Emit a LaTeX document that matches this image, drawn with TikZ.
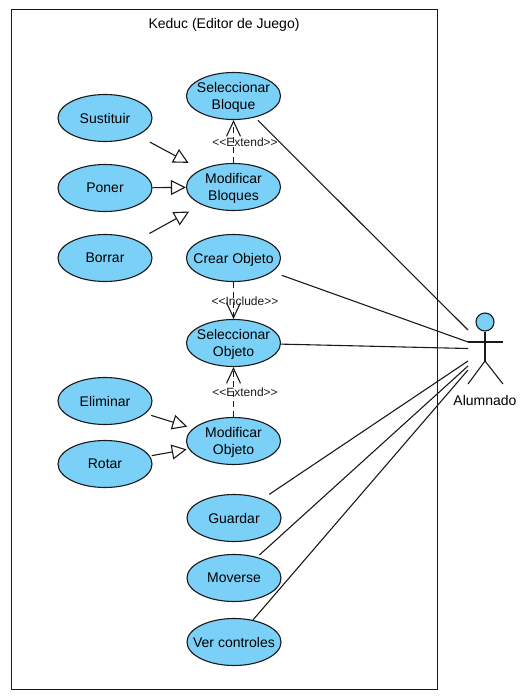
\documentclass[tikz,border=0pt]{standalone}
\usepackage{fontspec}
\setmainfont{Liberation Sans}
\usetikzlibrary{arrows.meta, shapes.geometric}
\definecolor{usecase}{HTML}{7BD0F7}
\definecolor{outline}{HTML}{1A1A1A}

\begin{document}
\begin{tikzpicture}[
    x=1pt, y=-1pt,
    case/.style={ellipse, minimum width=94pt, minimum height=47pt, inner xsep=-10pt,
                 inner ysep=0pt, text depth=0pt,
                 align=center, draw=outline, fill=usecase, line width=1.1pt,
                 font=\fontsize{14}{17}\selectfont},
    stereo/.style={font=\fontsize{12}{14}\selectfont, inner sep=0pt, text=outline},
    link/.style={draw=outline, line width=1.1pt},
    general/.style={link, -{Triangle[open, length=15pt, width=15pt, line width=1.1pt]}},
    dep/.style={link, dash pattern=on 6pt off 4pt,
                -{Straight Barb[length=15pt, width=14pt, line width=1.1pt]}}
  ]
    \node[draw=outline, line width=1pt, minimum width=426pt, minimum height=680pt,
          inner sep=0pt] (frame) at (224,349) {};
    \node[font=\fontsize{14}{17}\selectfont] (title) at (224,25) {Keduc (Editor de Juego)};

    \node[case] (selbloque) at (233.5,96)  {Seleccionar\\ Bloque};
    \node[case] (modbloque) at (233.5,187) {Modificar\\ Bloques};
    \node[case] (crear)     at (233.5,258) {Crear Objeto};
    \node[case] (selobjeto) at (233.5,343) {Seleccionar\\ Objeto};
    \node[case] (modobjeto) at (233.5,441) {Modificar\\ Objeto};
    \node[case] (guardar)   at (234,518)   {Guardar};
    \node[case] (moverse)   at (234,578)   {Moverse};
    \node[case] (ver)       at (234,642)   {Ver controles};

    \node[case] (sustituir) at (105,118) {Sustituir};
    \node[case] (poner)     at (105,188) {Poner};
    \node[case] (borrar)    at (105,258) {Borrar};
    \node[case] (eliminar)  at (105,401) {Eliminar};
    \node[case] (rotar)     at (105,464) {Rotar};

    \draw[general, shorten <=14pt, shorten >=14pt] (sustituir) -- (modbloque);
    \draw[general] (poner) -- (modbloque);
    \draw[general, shorten <=14pt, shorten >=14pt] (borrar) -- (modbloque);
    \draw[general, shorten <=6pt, shorten >=6pt] (eliminar) -- (modobjeto);
    \draw[general, shorten <=2pt, shorten >=2pt] (rotar) -- (modobjeto);

    \draw[dep] (modbloque) -- (selbloque);
    \draw[dep] (crear) -- (selobjeto);
    \draw[dep] (modobjeto) -- (selobjeto);
    \node[stereo] (ext1) at (245,142) {<{}<Extend>{}>};
    \node[stereo] (inc)  at (245,301) {<{}<Include>{}>};
    \node[stereo] (ext2) at (245,392) {<{}<Extend>{}>};

    % actor
    \node[circle, draw=outline, fill=usecase, line width=1.1pt, minimum size=18pt,
          inner sep=0pt] (head) at (485,322) {};
    \coordinate (hip)   at (485,361);
    \coordinate (armL)  at (468,342);
    \coordinate (armR)  at (503,342);
    \coordinate (legL)  at (468,384);
    \coordinate (legR)  at (503,384);
    \draw[link] (head) -- (hip);
    \draw[link] (armL) -- (armR);
    \draw[link] (legL) -- (hip) -- (legR);
    \node[font=\fontsize{14}{17}\selectfont] (alumnado) at (485,400) {Alumnado};

    \coordinate (a1) at (468,330);
    \coordinate (a2) at (468,342);
    \coordinate (a3) at (468,348.5);
    \coordinate (a4) at (468,361);
    \coordinate (a5) at (468,366);
    \coordinate (a6) at (468,370);
    \draw[link, shorten <=4pt]  (selbloque) -- (a1);
    \draw[link, shorten <=10pt] (crear) -- (a2);
    \draw[link]                 (selobjeto) -- (a3);
    \draw[link, shorten <=8pt]  (guardar) -- (a4);
    \draw[link, shorten <=3pt]  (moverse) -- (a5);
    \draw[link]                 (ver) -- (a6);
    \useasboundingbox (0,0) rectangle (523,699);
  \end{tikzpicture}
\end{document}
